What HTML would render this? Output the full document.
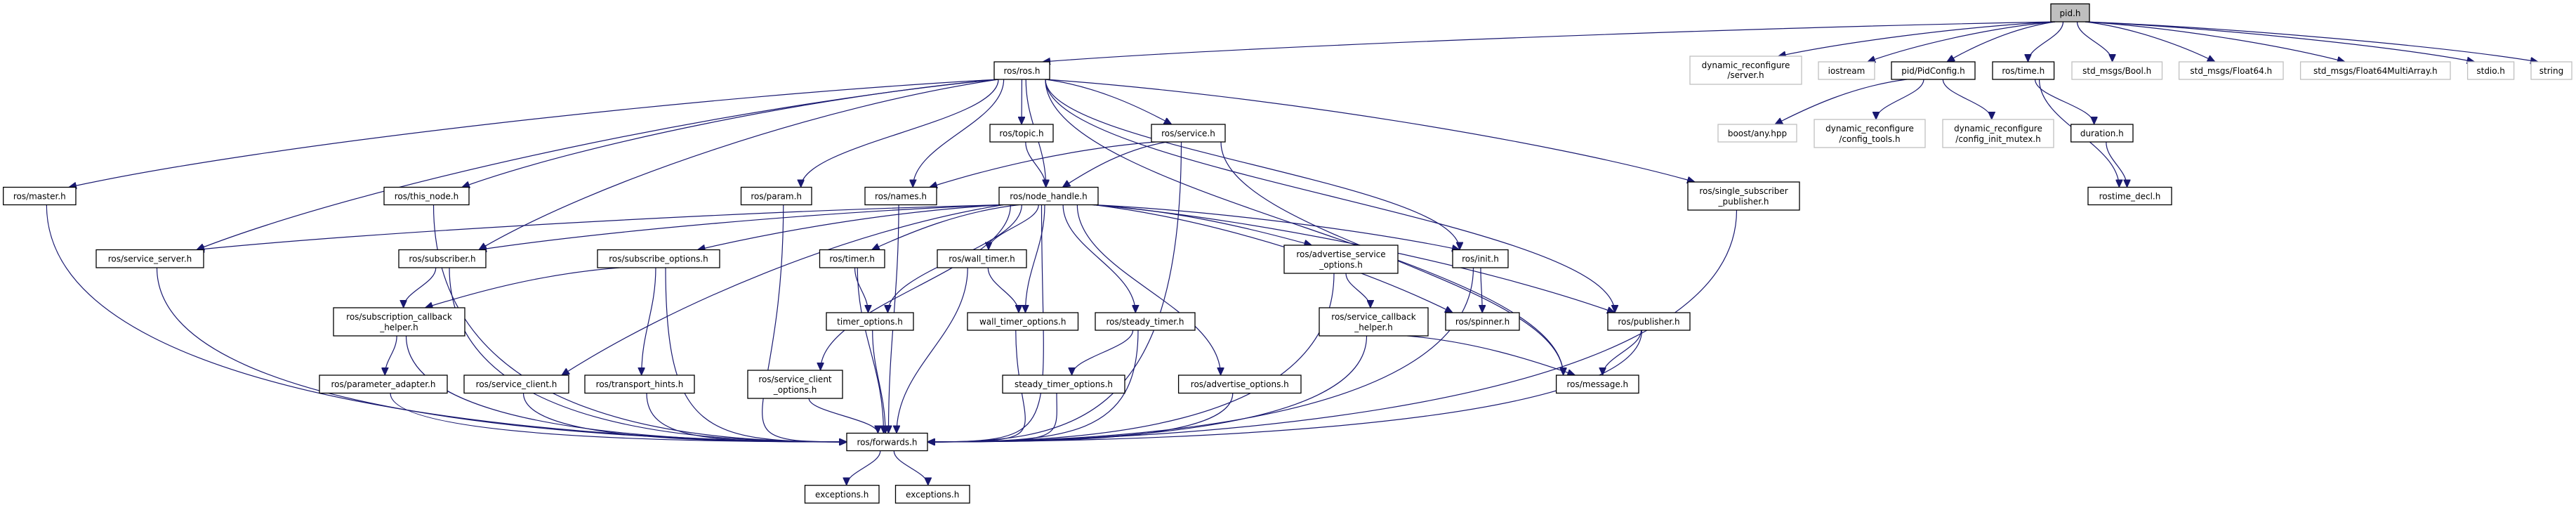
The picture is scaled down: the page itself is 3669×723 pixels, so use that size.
<!DOCTYPE html>
<html><head><meta charset="utf-8"><style>
html,body{margin:0;padding:0;background:#fff;}
svg{display:block;}
text{font-family:"DejaVu Sans","Liberation Sans",sans-serif;font-size:12px;fill:#000;}
</style></head><body>
<svg id="g" xmlns="http://www.w3.org/2000/svg" width="3669" height="723" viewBox="0 0 3669 723">
<defs><marker id="ah" markerWidth="12" markerHeight="10" refX="11" refY="5" orient="auto" markerUnits="userSpaceOnUse"><path d="M0,0 L11,5 L0,10 Z" fill="#191970" stroke="#191970"/></marker></defs>
<g id="edges" fill="none" stroke="#191970" stroke-width="1.2"></g>
<g id="nodes" stroke-width="1.3">
<rect x="2921" y="5.5" width="55" height="25.5" fill="#bfbfbf" stroke="#000"/><text x="2948.5" y="23" text-anchor="middle">pid.h</text>
<rect x="1416" y="88" width="79" height="25" fill="#fff" stroke="#000"/><text x="1455.5" y="105" text-anchor="middle">ros/ros.h</text>
<rect x="2407" y="80" width="159" height="40" fill="#fff" stroke="#bfbfbf"/><text x="2486.5" y="97" text-anchor="middle">dynamic_reconfigure</text><text x="2486.5" y="111" text-anchor="middle">/server.h</text>
<rect x="2590" y="88" width="80" height="25" fill="#fff" stroke="#bfbfbf"/><text x="2630" y="105" text-anchor="middle">iostream</text>
<rect x="2694" y="88" width="119" height="25" fill="#fff" stroke="#000"/><text x="2753.5" y="105" text-anchor="middle">pid/PidConfig.h</text>
<rect x="2838" y="88" width="87.6" height="25" fill="#fff" stroke="#000"/><text x="2881.8" y="105" text-anchor="middle">ros/time.h</text>
<rect x="2951" y="88" width="128.5" height="25" fill="#fff" stroke="#bfbfbf"/><text x="3015.2" y="105" text-anchor="middle">std_msgs/Bool.h</text>
<rect x="3103.6" y="88" width="148.4" height="25" fill="#fff" stroke="#bfbfbf"/><text x="3177.8" y="105" text-anchor="middle">std_msgs/Float64.h</text>
<rect x="3276.6" y="88" width="213.4" height="25" fill="#fff" stroke="#bfbfbf"/><text x="3383.3" y="105" text-anchor="middle">std_msgs/Float64MultiArray.h</text>
<rect x="3514.6" y="88" width="66" height="25" fill="#fff" stroke="#bfbfbf"/><text x="3547.6" y="105" text-anchor="middle">stdio.h</text>
<rect x="3605" y="88" width="58" height="25" fill="#fff" stroke="#bfbfbf"/><text x="3634" y="105" text-anchor="middle">string</text>
<rect x="1410" y="177" width="90" height="25" fill="#fff" stroke="#000"/><text x="1455" y="194" text-anchor="middle">ros/topic.h</text>
<rect x="1640" y="177" width="105" height="25" fill="#fff" stroke="#000"/><text x="1692.5" y="194" text-anchor="middle">ros/service.h</text>
<rect x="2447" y="177" width="112" height="25" fill="#fff" stroke="#bfbfbf"/><text x="2503" y="194" text-anchor="middle">boost/any.hpp</text>
<rect x="2584" y="170" width="158" height="40" fill="#fff" stroke="#bfbfbf"/><text x="2663" y="187" text-anchor="middle">dynamic_reconfigure</text><text x="2663" y="202" text-anchor="middle">/config_tools.h</text>
<rect x="2767" y="170" width="158" height="40" fill="#fff" stroke="#bfbfbf"/><text x="2846" y="187" text-anchor="middle">dynamic_reconfigure</text><text x="2846" y="202" text-anchor="middle">/config_init_mutex.h</text>
<rect x="2949.7" y="177" width="88.3" height="25" fill="#fff" stroke="#000"/><text x="2993.8" y="194" text-anchor="middle">duration.h</text>
<rect x="4.7" y="266.5" width="103.3" height="25" fill="#fff" stroke="#000"/><text x="56.3" y="283.5" text-anchor="middle">ros/master.h</text>
<rect x="547" y="266.5" width="121" height="25" fill="#fff" stroke="#000"/><text x="607.5" y="283.5" text-anchor="middle">ros/this_node.h</text>
<rect x="1055.5" y="266.5" width="100.5" height="25" fill="#fff" stroke="#000"/><text x="1105.7" y="283.5" text-anchor="middle">ros/param.h</text>
<rect x="1232" y="266.5" width="102" height="25" fill="#fff" stroke="#000"/><text x="1283" y="283.5" text-anchor="middle">ros/names.h</text>
<rect x="1423" y="266.5" width="141" height="25" fill="#fff" stroke="#000"/><text x="1493.5" y="283.5" text-anchor="middle">ros/node_handle.h</text>
<rect x="2404" y="259" width="159" height="40" fill="#fff" stroke="#000"/><text x="2483.5" y="276" text-anchor="middle">ros/single_subscriber</text><text x="2483.5" y="291" text-anchor="middle">_publisher.h</text>
<rect x="2974" y="266.5" width="119" height="25" fill="#fff" stroke="#000"/><text x="3033.5" y="283.5" text-anchor="middle">rostime_decl.h</text>
<rect x="137" y="355.5" width="153" height="25.5" fill="#fff" stroke="#000"/><text x="213.5" y="372.5" text-anchor="middle">ros/service_server.h</text>
<rect x="568" y="355.5" width="124" height="25.5" fill="#fff" stroke="#000"/><text x="630" y="372.5" text-anchor="middle">ros/subscriber.h</text>
<rect x="851" y="355.5" width="174" height="25.5" fill="#fff" stroke="#000"/><text x="938" y="372.5" text-anchor="middle">ros/subscribe_options.h</text>
<rect x="1167.5" y="355.5" width="92.5" height="25.5" fill="#fff" stroke="#000"/><text x="1213.7" y="372.5" text-anchor="middle">ros/timer.h</text>
<rect x="1335" y="355.5" width="127" height="25.5" fill="#fff" stroke="#000"/><text x="1398.5" y="372.5" text-anchor="middle">ros/wall_timer.h</text>
<rect x="1829" y="349" width="162" height="40" fill="#fff" stroke="#000"/><text x="1910" y="366" text-anchor="middle">ros/advertise_service</text><text x="1910" y="381" text-anchor="middle">_options.h</text>
<rect x="2069" y="355.5" width="79" height="25.5" fill="#fff" stroke="#000"/><text x="2108.5" y="372.5" text-anchor="middle">ros/init.h</text>
<rect x="475" y="438" width="187" height="40" fill="#fff" stroke="#000"/><text x="568.5" y="455" text-anchor="middle">ros/subscription_callback</text><text x="568.5" y="470" text-anchor="middle">_helper.h</text>
<rect x="1177" y="445" width="124" height="25" fill="#fff" stroke="#000"/><text x="1239" y="462" text-anchor="middle">timer_options.h</text>
<rect x="1378" y="445" width="157.5" height="25" fill="#fff" stroke="#000"/><text x="1456.7" y="462" text-anchor="middle">wall_timer_options.h</text>
<rect x="1560" y="445" width="142" height="25" fill="#fff" stroke="#000"/><text x="1631" y="462" text-anchor="middle">ros/steady_timer.h</text>
<rect x="1879" y="438" width="155" height="40" fill="#fff" stroke="#000"/><text x="1956.5" y="455" text-anchor="middle">ros/service_callback</text><text x="1956.5" y="470" text-anchor="middle">_helper.h</text>
<rect x="2059" y="445" width="105" height="25" fill="#fff" stroke="#000"/><text x="2111.5" y="462" text-anchor="middle">ros/spinner.h</text>
<rect x="2290" y="445" width="117" height="25" fill="#fff" stroke="#000"/><text x="2348.5" y="462" text-anchor="middle">ros/publisher.h</text>
<rect x="455" y="534" width="182" height="25.5" fill="#fff" stroke="#000"/><text x="546" y="551" text-anchor="middle">ros/parameter_adapter.h</text>
<rect x="661" y="534" width="149" height="25.5" fill="#fff" stroke="#000"/><text x="735.5" y="551" text-anchor="middle">ros/service_client.h</text>
<rect x="833" y="534" width="156" height="25.5" fill="#fff" stroke="#000"/><text x="911" y="551" text-anchor="middle">ros/transport_hints.h</text>
<rect x="1065" y="527" width="135" height="40" fill="#fff" stroke="#000"/><text x="1132.5" y="544" text-anchor="middle">ros/service_client</text><text x="1132.5" y="559" text-anchor="middle">_options.h</text>
<rect x="1428" y="534" width="174" height="25.5" fill="#fff" stroke="#000"/><text x="1515" y="551" text-anchor="middle">steady_timer_options.h</text>
<rect x="1678.6" y="534" width="174.4" height="25.5" fill="#fff" stroke="#000"/><text x="1765.8" y="551" text-anchor="middle">ros/advertise_options.h</text>
<rect x="2216.6" y="534" width="117.4" height="25.5" fill="#fff" stroke="#000"/><text x="2275.3" y="551" text-anchor="middle">ros/message.h</text>
<rect x="1206" y="616.5" width="115" height="25" fill="#fff" stroke="#000"/><text x="1263.5" y="633.5" text-anchor="middle">ros/forwards.h</text>
<rect x="1146.5" y="690.7" width="105.5" height="25.3" fill="#fff" stroke="#000"/><text x="1199.2" y="708" text-anchor="middle">exceptions.h</text>
<rect x="1275.5" y="690.7" width="105.5" height="25.3" fill="#fff" stroke="#000"/><text x="1328.2" y="708" text-anchor="middle">exceptions.h</text>
</g>
</svg>
<script>
var N={};
document.querySelectorAll('#nodes rect').forEach(function(r){
  var t=r.nextElementSibling.textContent;
  var n=r.nextElementSibling.nextElementSibling;
  if(n&&n.tagName=='text'&&n.getAttribute('x')==r.nextElementSibling.getAttribute('x')&&n.previousElementSibling.tagName=='text'&&n.previousElementSibling.previousElementSibling===r) t+=n.textContent;
  var x=+r.getAttribute('x'),y=+r.getAttribute('y'),w=+r.getAttribute('width'),h=+r.getAttribute('height');
  var k=t; if(N[k]) k=k+'2';
  N[k]={x1:x,y1:y,x2:x+w,y2:y+h,cx:x+w/2};
});
var E=[
['pid.h','ros/ros.h'],['pid.h','dynamic_reconfigure/server.h'],['pid.h','iostream'],['pid.h','pid/PidConfig.h'],['pid.h','ros/time.h'],['pid.h','std_msgs/Bool.h'],['pid.h','std_msgs/Float64.h'],['pid.h','std_msgs/Float64MultiArray.h'],['pid.h','stdio.h'],['pid.h','string'],
['pid/PidConfig.h','boost/any.hpp'],['pid/PidConfig.h','dynamic_reconfigure/config_tools.h'],['pid/PidConfig.h','dynamic_reconfigure/config_init_mutex.h'],
['ros/time.h','duration.h'],['ros/time.h','rostime_decl.h'],['duration.h','rostime_decl.h'],
['ros/ros.h','ros/master.h'],['ros/ros.h','ros/this_node.h'],['ros/ros.h','ros/service_server.h'],['ros/ros.h','ros/subscriber.h'],['ros/ros.h','ros/param.h'],['ros/ros.h','ros/names.h'],['ros/ros.h','ros/topic.h'],['ros/ros.h','ros/node_handle.h'],['ros/ros.h','ros/service.h'],['ros/ros.h','ros/init.h'],['ros/ros.h','ros/publisher.h'],['ros/ros.h','ros/message.h'],['ros/ros.h','ros/single_subscriber_publisher.h'],
['ros/topic.h','ros/node_handle.h'],['ros/service.h','ros/names.h'],['ros/service.h','ros/node_handle.h'],['ros/service.h','ros/forwards.h'],['ros/service.h','ros/message.h'],
['ros/master.h','ros/forwards.h'],['ros/this_node.h','ros/forwards.h'],['ros/param.h','ros/forwards.h'],['ros/names.h','ros/forwards.h'],['ros/service_server.h','ros/forwards.h'],
['ros/node_handle.h','ros/forwards.h'],['ros/node_handle.h','ros/service_server.h'],['ros/node_handle.h','ros/subscriber.h'],['ros/node_handle.h','ros/subscribe_options.h'],['ros/node_handle.h','ros/timer.h'],['ros/node_handle.h','timer_options.h'],['ros/node_handle.h','ros/wall_timer.h'],['ros/node_handle.h','wall_timer_options.h'],['ros/node_handle.h','ros/steady_timer.h'],['ros/node_handle.h','ros/advertise_options.h'],['ros/node_handle.h','ros/advertise_service_options.h'],['ros/node_handle.h','ros/service_client_options.h'],['ros/node_handle.h','ros/service_client.h'],['ros/node_handle.h','ros/init.h'],['ros/node_handle.h','ros/spinner.h'],['ros/node_handle.h','ros/publisher.h'],
['ros/subscriber.h','ros/subscription_callback_helper.h'],['ros/subscriber.h','ros/forwards.h'],['ros/subscribe_options.h','ros/subscription_callback_helper.h'],['ros/subscribe_options.h','ros/transport_hints.h'],['ros/subscribe_options.h','ros/forwards.h'],
['ros/subscription_callback_helper.h','ros/parameter_adapter.h'],['ros/subscription_callback_helper.h','ros/forwards.h'],['ros/parameter_adapter.h','ros/forwards.h'],['ros/service_client.h','ros/forwards.h'],['ros/transport_hints.h','ros/forwards.h'],['ros/service_client_options.h','ros/forwards.h'],
['ros/timer.h','timer_options.h'],['ros/timer.h','ros/forwards.h'],['ros/wall_timer.h','wall_timer_options.h'],['ros/wall_timer.h','ros/forwards.h'],['timer_options.h','ros/forwards.h'],['wall_timer_options.h','ros/forwards.h'],
['ros/steady_timer.h','steady_timer_options.h'],['ros/steady_timer.h','ros/forwards.h'],['steady_timer_options.h','ros/forwards.h'],['ros/advertise_options.h','ros/forwards.h'],
['ros/advertise_service_options.h','ros/service_callback_helper.h'],['ros/advertise_service_options.h','ros/forwards.h'],['ros/service_callback_helper.h','ros/message.h'],['ros/service_callback_helper.h','ros/forwards.h'],
['ros/init.h','ros/spinner.h'],['ros/init.h','ros/forwards.h'],['ros/publisher.h','ros/message.h'],['ros/publisher.h','ros/forwards.h'],['ros/single_subscriber_publisher.h','ros/forwards.h'],
['ros/forwards.h','exceptions.h'],['ros/forwards.h','exceptions.h2']
];
var g=document.getElementById('edges'),ns='http://www.w3.org/2000/svg';
E.forEach(function(e){
  var s=N[e[0]],t=N[e[1]]; if(!s||!t) return;
  var d;
  if(e[1]=='ros/forwards.h' && (s.cx<1120 || s.cx>1420)){
    var left=s.cx<1120, sx=s.cx+(left?10:-10), sy=s.y2;
    var tx=left?t.x1:t.x2, ty=629;
    var bend=Math.min(0.9,(ty-sy)/300);
    d='M'+sx+','+sy+' C'+sx+','+(sy+(ty-sy)*0.95)+' '+(tx+(left?-200:200))+','+ty+' '+tx+','+ty;
  } else if(t.y1<=s.y1+5){
    // same row: side to side
    var r=t.cx>s.cx; var sx=r?s.x2:s.x1, tx=r?t.x1:t.x2, sy=(s.y1+s.y2)/2, ty=(t.y1+t.y2)/2;
    d='M'+sx+','+sy+' L'+tx+','+ty;
  } else {
    var dx=t.cx-s.cx;
    var sx=s.cx+Math.max(-(s.x2-s.x1)/2+6,Math.min((s.x2-s.x1)/2-6,dx*0.15));
    var tx=t.cx-Math.max(-(t.x2-t.x1)/2+10,Math.min((t.x2-t.x1)/2-10,dx*0.1));
    var sy=s.y2, ty=t.y1, dy=ty-sy;
    if(Math.abs(dx)>dy*3){ d='M'+sx+','+sy+' C'+(sx+dx*0.3)+','+(sy+dy*0.15)+' '+(tx-dx*0.2)+','+(ty-dy*0.4)+' '+tx+','+ty; }
    else d='M'+sx+','+sy+' C'+sx+','+(sy+dy*0.4)+' '+tx+','+(ty-dy*0.4)+' '+tx+','+ty;
  }
  var p=document.createElementNS(ns,'path'); p.setAttribute('d',d); p.setAttribute('marker-end','url(#ah)'); g.appendChild(p);
});
</script>
</body></html>
